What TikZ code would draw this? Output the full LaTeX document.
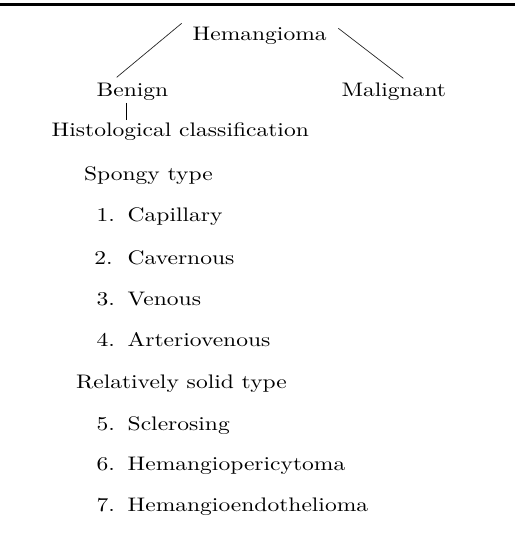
\documentclass[tikz,border=0pt]{standalone}
\usepackage{fontspec}
\newfontfamily\widefont{lmroman10-regular.otf}[FakeStretch=1.2]
\usetikzlibrary{calc}
\newcommand\myitem[2]{\makebox[31pt][l]{#1}#2}
\begin{document}
\begin{tikzpicture}[x=1pt,y=-1pt,
  txt/.style={anchor=base west, inner sep=0pt, outer sep=0pt,
    font=\widefont\fontsize{19.6}{21}\selectfont},
  thin line/.style={line width=0.7pt, black!85},
  rule/.style={line width=3pt, black}]
\useasboundingbox (0,0) rectangle (515,537);
\coordinate (rl) at (0,4.5);
\coordinate (rr) at (515,4.5);
\draw[rule] (rl) -- (rr);
\node[txt] (hem) at (192.7,40.7) {Hemangioma};
\node[txt] (ben) at (96.7,96.7) {Benign};
\node[txt] (mal) at (341.5,96.7) {Malignant};
\node[txt] (his) at (51.7,137) {Histological classification};
\node[txt] (spo) at (84,181) {Spongy type};
\node[txt] (i1) at (96.7,221.7) {\myitem{1.}{Capillary}};
\node[txt] (i2) at (94.3,264) {\myitem{2.}{\hspace{2.4pt}Cavernous}};
\node[txt] (i3) at (96.7,305.7) {\myitem{3.}{Venous}};
\node[txt] (i4) at (96.7,346.7) {\myitem{4.}{Arteriovenous}};
\node[txt] (rel) at (76,388.3) {Relatively solid type};
\node[txt] (i5) at (96.7,430) {\myitem{5.}{Sclerosing}};
\node[txt] (i6) at (96.7,470) {\myitem{6.}{Hemangiopericytoma}};
\node[txt] (i7) at (96.7,511.7) {\myitem{7.}{Hemangioendothelioma}};
\draw[thin line] ([xshift=-11pt,yshift=17.4pt]hem.base west) -- ([xshift=20pt,yshift=19.4pt]ben.base west);
\draw[thin line] ([xshift=11.7pt,yshift=12.4pt]hem.base east) -- ([xshift=61.8pt,yshift=18.4pt]mal.base west);
\draw[line width=0.9pt] ([xshift=30pt,yshift=-6.3pt]ben.base west) -- ([xshift=75pt,yshift=16.5pt]his.base west);
\end{tikzpicture}
\end{document}
